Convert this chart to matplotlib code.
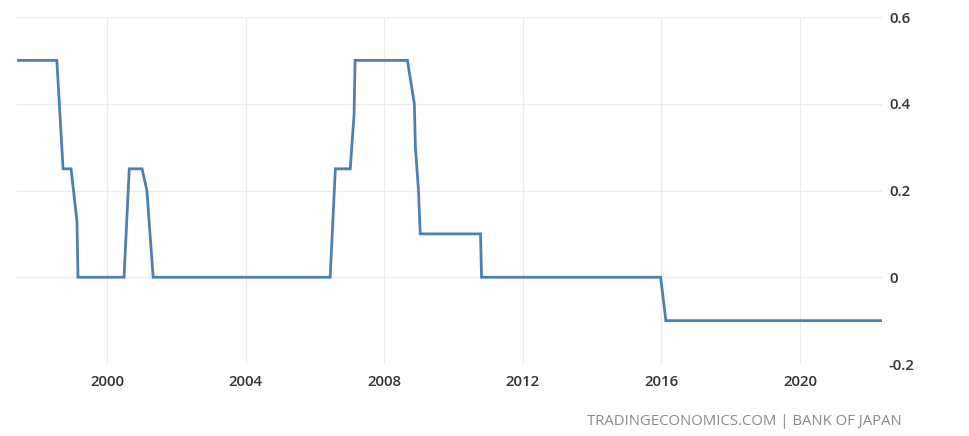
import matplotlib
matplotlib.use("Agg")
import matplotlib.pyplot as plt

# Vertices of the policy-rate line (decimal years, percent)
years = [1997.40, 1998.55, 1998.73, 1998.96, 1999.13, 1999.16, 2000.49, 2000.64,
         2001.01, 2001.15, 2001.33, 2006.44, 2006.59, 2007.02, 2007.13, 2007.16,
         2008.67, 2008.87, 2008.90, 2008.99, 2009.04, 2010.78, 2010.81, 2015.98,
         2016.13, 2022.37]
rates = [0.50, 0.50, 0.25, 0.25, 0.13, 0.00, 0.00, 0.25,
         0.25, 0.20, 0.00, 0.00, 0.25, 0.25, 0.375, 0.50,
         0.50, 0.40, 0.30, 0.20, 0.10, 0.10, 0.00, 0.00,
         -0.10, -0.10]

x_ticks = [2000, 2004, 2008, 2012, 2016, 2020]
x_labels = ["2000", "2004", "2008", "2012", "2016", "2020"]
y_ticks = [-0.2, 0.0, 0.2, 0.4, 0.6]
y_labels = ["-0.2", "0", "0.2", "0.4", "0.6"]
source_text = "TRADINGECONOMICS.COM | BANK OF JAPAN"

plt.rcParams['font.family'] = ['Open Sans', 'DejaVu Sans']

fig = plt.figure(figsize=(9.69, 4.36), dpi=100)
ax = fig.add_axes([17/969, 1 - 364/436, (882 - 17)/969, (364 - 17)/436])

ax.plot(years, rates, color="#4a80b8", linewidth=2.0, solid_joinstyle="miter")

ax.set_xlim(1997.40, 2022.37)
ax.set_ylim(-0.2, 0.6)
ax.set_xticks(x_ticks)
ax.set_xticklabels(x_labels)
ax.set_yticks(y_ticks)
ax.set_yticklabels(y_labels)

ax.yaxis.tick_right()
ax.tick_params(axis="both", length=0, labelsize=10.8, colors="#333333")
ax.tick_params(axis="y", pad=5)
ax.tick_params(axis="x", pad=8)
for lbl in ax.get_xticklabels() + ax.get_yticklabels():
    lbl.set_fontweight("semibold")

for s in ax.spines.values():
    s.set_visible(False)

ax.grid(True, color="#ebebeb", linewidth=0.9)
ax.set_axisbelow(True)

fig.text(902/969, 1 - 421/436, source_text, ha="right", va="center",
         fontsize=10.7, color="#8a8a8a")

fig.savefig("out.png", dpi=100, facecolor="white")
